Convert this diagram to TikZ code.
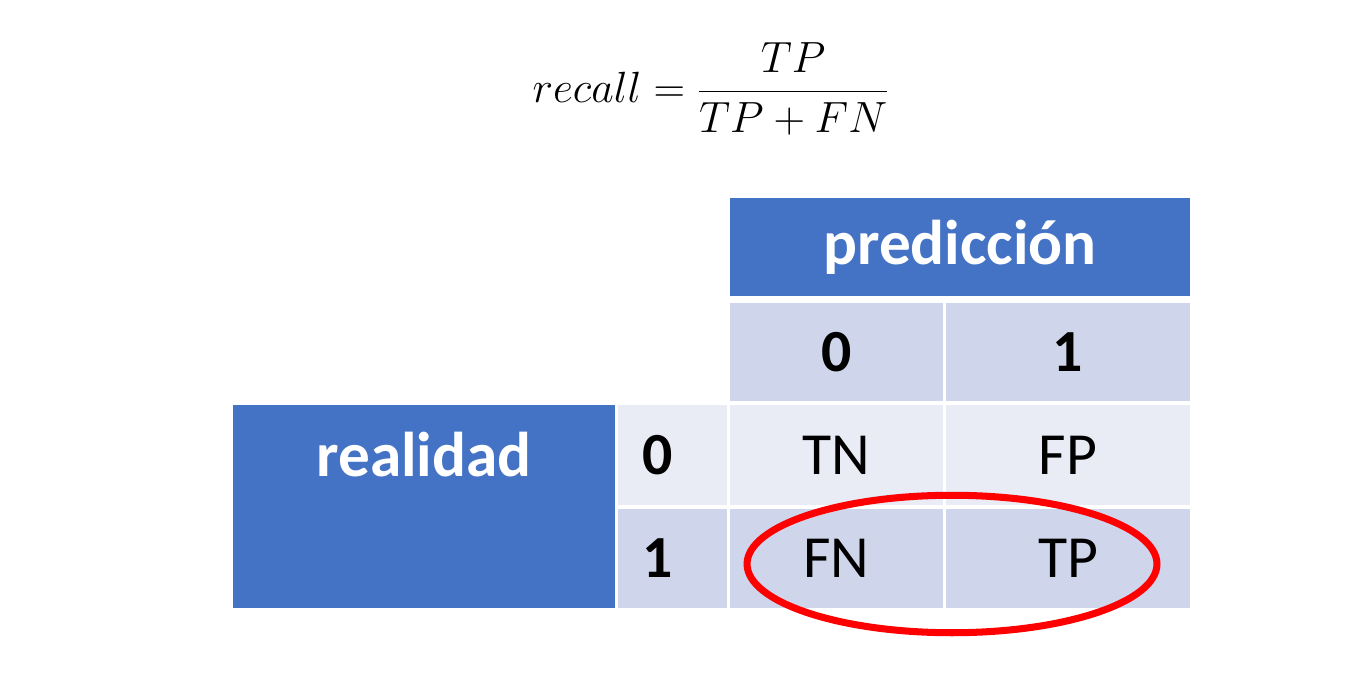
\documentclass[tikz,border=0pt]{standalone}
\usepackage{amsmath}
\usepackage{fontspec}
\newfontfamily\calibri{Carlito}
\usetikzlibrary{shapes.geometric}

\definecolor{hdrblue}{HTML}{4472C4}
\definecolor{cellmid}{HTML}{CFD5EA}
\definecolor{celllight}{HTML}{E9EBF5}

\begin{document}
\begin{tikzpicture}[
      x=0.02cm, y=-0.02cm,
      cell/.style={inner sep=0pt, font=\calibri\fontsize{34}{40}\selectfont},
      hdr/.style={cell, fill=hdrblue, text=white, font=\calibri\bfseries\fontsize{36}{40}\selectfont},
      head/.style={cell, fill=cellmid, font=\calibri\bfseries\fontsize{34}{40}\selectfont},
      rowlbl/.style={head, inner xsep=0.48cm, text width=1.22cm, align=left},
      ring/.style={ellipse, draw=red, line width=4pt, inner sep=0pt}
    ]
    \useasboundingbox (0,0) rectangle (1354,678);
    % Draw the formula.
    \node (formula) at (711,89) {\fontsize{25}{30}\selectfont $recall=\dfrac{TP}{TP+FN}$};
    % Draw the headers.
    \node[hdr, minimum width=9.2cm, minimum height=1.96cm] (pred) at (960,247) {predicción};
    \node[head, minimum width=4.26cm, minimum height=1.96cm] (h0) at (836.5,352) {0};
    \node[head, minimum width=4.88cm, minimum height=1.96cm] (h1) at (1068,352) {1};
    \node[hdr, minimum width=7.64cm, minimum height=4.06cm] (real) at (424,506.5) {};
    \node[rowlbl, minimum height=2.0cm, fill=celllight] (r0) at (672.5,455) {0};
    \node[rowlbl, minimum height=1.98cm] (r1) at (672.5,558.5) {1};
    \node[hdr, fill=none] (realtxt) at (real |- r0) {realidad};
    % Draw the cells.
    \node[cell, fill=celllight, minimum width=4.26cm, minimum height=2.0cm] (tn) at (836.5,455) {TN};
    \node[cell, fill=celllight, minimum width=4.88cm, minimum height=2.0cm] (fp) at (1068,455) {FP};
    \node[cell, fill=cellmid, minimum width=4.26cm, minimum height=1.98cm] (fn) at (836.5,558.5) {FN};
    \node[cell, fill=cellmid, minimum width=4.88cm, minimum height=1.98cm] (tp) at (1068,558.5) {TP};
    % Draw the ring.
    \node[ring, minimum width=8.2cm, minimum height=2.75cm] (circ) at (952,564) {};
\end{tikzpicture}
\end{document}
